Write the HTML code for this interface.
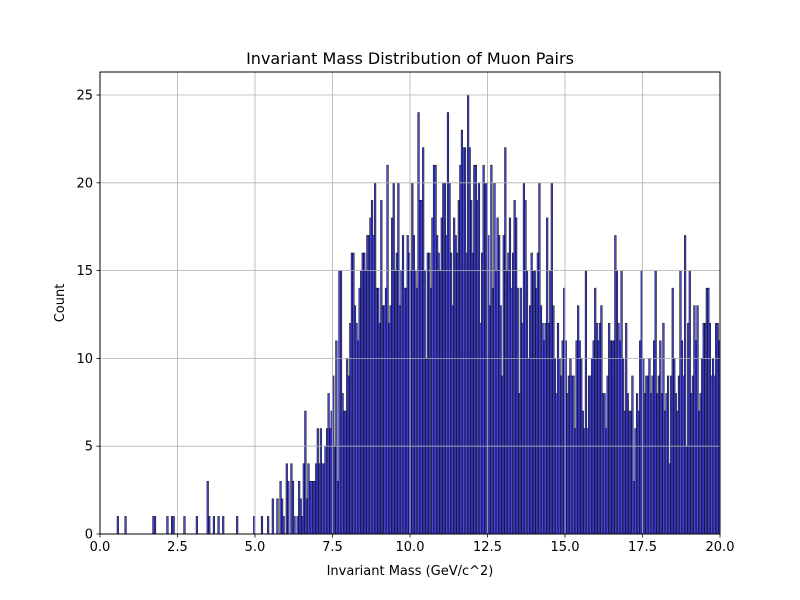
<!DOCTYPE html>
<html><head><meta charset="utf-8"><style>body{margin:0;background:#fff}svg{display:block;font-family:"DejaVu Sans","Liberation Sans",sans-serif}</style></head>
<body>
<svg id="chart" width="800" height="600" viewBox="0 0 800 600" xmlns="http://www.w3.org/2000/svg">
<rect width="800" height="600" fill="#fff"/>
<g id="bars"></g>
<g id="grid"></g>
<rect x="100" y="72" width="620" height="462" fill="none" stroke="#000" stroke-width="1"/>
<g id="ticks"></g>
<text x="410" y="64" text-anchor="middle" font-size="16">Invariant Mass Distribution of Muon Pairs</text>
<text x="410" y="575" text-anchor="middle" font-size="13">Invariant Mass (GeV/c^2)</text>
<text transform="translate(64,303) rotate(-90)" text-anchor="middle" font-size="13">Count</text>
</svg>
<script>
const binStart = 0, binWidth = 0.05;
const counts = [
0,0,0,0,0,0,0,0,0,0, 0,1,0,0,0,0,1,0,0,0, 0,0,0,0,0,0,0,0,0,0, 0,0,0,0,1,1,0,0,0,0,
0,0,0,1,0,0,1,1,0,0, 0,0,0,0,1,0,0,0,0,0, 0,0,1,0,0,0,0,0,0,3, 1,0,0,1,0,0,1,0,0,1,
0,0,0,0,0,0,0,0,1,0, 0,0,0,0,0,0,0,0,0,1,
0,0,0,0,1,0,0,0,1,0, 0,2,0,0,2,0,3,2,1,0, 4,3,0,4,3,1,0,1,3,2, 1,4,7,2,4,3,3,3,3,4,
6,4,6,4,4,5,6,8,6,7, 9,5,11,3,15,15,8,7,7,10, 9,12,16,16,13,12,11,14,15,16,
16,15,17,17,18,19,17,20,14,14, 12,19,13,13,14,21,12,13,18,20, 15,16,20,13,15,17,14,14,17,16,
15,20,17,15,14,24,19,19,22,15, 10,16,16,14,18,21,21,17,16,15, 18,20,20,17,24,20,16,13,18,17,
16,19,21,23,22,22,16,25,22,19, 16,21,21,19,20,12,16,21,20,20, 17,13,21,14,20,15,18,17,13,9,
17,22,15,16,18,14,16,19,18,14, 8,14,12,20,19,15,10,13,16,15, 15,14,16,20,13,12,11,12,18,12,
15,20,13,10,8,12,10,9,11,14, 11,8,9,10,9,9,6,11,13,11, 10,7,6,15,6,9,9,10,11,14,
12,11,12,13,8,8,6,9,12,11, 11,11,17,15,12,11,15,10,7,12, 8,7,7,9,3,6,8,7,11,15,
10,8,9,9,10,8,9,11,15,8, 9,11,8,12,7,8,9,4,9,14, 10,8,7,9,15,11,9,17,5,12,
15,8,9,13,11,13,7,8,10,12, 12,14,14,12,9,10,9,12,12,11
];
const xTicks = [0,2.5,5,7.5,10,12.5,15,17.5,20];
const xTickLabels = ["0.0","2.5","5.0","7.5","10.0","12.5","15.0","17.5","20.0"];
const yTicks = [0,5,10,15,20,25];
const yTickLabels = ["0","5","10","15","20","25"];

const L=100,R=720,T=72,B=534,XMAX=20,YMAX=26.31;
const xs=v=>L+(v/XMAX)*(R-L);
const ys=v=>B-(v/YMAX)*(B-T);
const NS="http://www.w3.org/2000/svg";
function mk(tag,attrs,parent){const e=document.createElementNS(NS,tag);for(const k in attrs)e.setAttribute(k,attrs[k]);parent.appendChild(e);return e;}
const bars=document.getElementById('bars');
counts.forEach((c,i)=>{
  if(c<=0)return;
  const x0=xs(binStart+i*binWidth),x1=xs(binStart+(i+1)*binWidth);
  const r=mk('rect',{x:x0,y:ys(c),width:x1-x0,height:B-ys(c),fill:'rgba(0,0,255,0.7)',stroke:'#111','stroke-width':0.6},bars);
  
  
});
const grid=document.getElementById('grid'),ticks=document.getElementById('ticks');
xTicks.forEach((v,i)=>{
  const x=xs(v);
  const g=mk('line',{x1:x,x2:x,y1:T,y2:B,stroke:'#b0b0b0','stroke-width':0.8},grid);
  
  
  mk('line',{x1:x,x2:x,y1:B,y2:B+3.5,stroke:'#000','stroke-width':0.8},ticks);
  const t=mk('text',{x:x,y:B+17,'text-anchor':'middle','font-size':13},ticks);
  t.textContent=xTickLabels[i];
  
  
});
yTicks.forEach((v,i)=>{
  const y=ys(v);
  const g=mk('line',{x1:L,x2:R,y1:y,y2:y,stroke:'#b0b0b0','stroke-width':0.8},grid);
  
  
  mk('line',{x1:L-3.5,x2:L,y1:y,y2:y,stroke:'#000','stroke-width':0.8},ticks);
  const t=mk('text',{x:L-7,y:y+4.5,'text-anchor':'end','font-size':13},ticks);
  t.textContent=yTickLabels[i];
  
  
});
</script>
</body></html>
